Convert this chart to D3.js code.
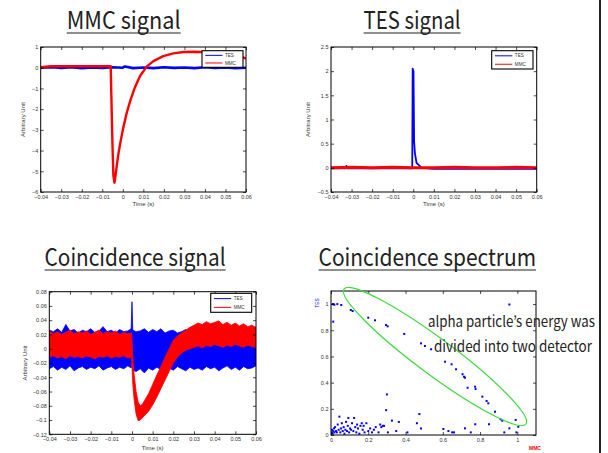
<!DOCTYPE html>
<html>
<head>
<meta charset="utf-8">
<script src="https://cdn.jsdelivr.net/npm/d3@7"></script>
<style>
  body { margin: 0; background: #fff; }
  svg { display: block; }
</style>
</head>
<body>
<script>
// ---- data ----
const timeTicks = [-0.04, -0.03, -0.02, -0.01, 0, 0.01, 0.02, 0.03, 0.04, 0.05, 0.06];

// MMC signal panel
const mmc1Time  = [-0.04, -0.035, -0.03, -0.02, -0.01, -0.0059, -0.0051, -0.0046, -0.0041, -0.0038, -0.003, -0.0022, -0.0014, 0, 0.0019, 0.0038, 0.0058, 0.0084, 0.0116, 0.0149, 0.0197, 0.0246, 0.0295, 0.0344, 0.0392, 0.0441, 0.0506, 0.0571, 0.06];
const mmc1Value = [0.03, 0.07, 0.07, 0.07, 0.07, 0.07, -3.5, -5.2, -5.55, -5.4, -4.77, -4.2, -3.72, -3.0, -2.18, -1.54, -0.97, -0.4, 0.05, 0.32, 0.56, 0.69, 0.76, 0.77, 0.76, 0.74, 0.68, 0.58, 0.43];
const tes1Time  = [-0.04, -0.034, -0.03, -0.025, -0.02, -0.015, -0.01, -0.005, 0, 0.001, 0.005, 0.01, 0.015, 0.02, 0.025, 0.03, 0.035, 0.04, 0.045, 0.05, 0.055, 0.06];
const tes1Value = [0.0, 0.03, -0.01, 0.02, -0.02, 0.01, -0.01, 0.02, 0.0, 0.06, -0.02, 0.01, -0.02, 0.02, -0.01, 0.01, -0.02, 0.02, -0.01, 0.01, -0.02, 0.0];
const mmc1YTicks = [-6, -5, -4, -3, -2, -1, 0, 1];

// TES signal panel
const tes2Time  = [-0.04, -0.033, -0.0325, -0.032, -0.02, -0.01, -0.0005, -0.0003, 0.0001, 0.0004, 0.0008, 0.0016, 0.0029, 0.004, 0.01, 0.03, 0.06];
const tes2Value = [-0.01, -0.01, 0.04, -0.01, -0.01, -0.01, -0.01, 2.05, 2.0, 0.55, 0.3, 0.1, 0.05, 0.0, -0.02, -0.02, -0.02];
const mmc2Time  = [-0.04, -0.03, -0.02, -0.01, 0, 0.01, 0.02, 0.03, 0.04, 0.05, 0.06];
const mmc2Value = [0.0, 0.01, 0.0, 0.01, 0.0, 0.0, 0.01, 0.0, 0.0, 0.01, 0.0];
const tes2YTicks = [-0.5, 0, 0.5, 1, 1.5, 2, 2.5];

// Coincidence signal panel (noise bands: upper / lower envelopes)
const coinTesTime  = [-0.04, -0.038, -0.036, -0.034, -0.032, -0.03, -0.028, -0.026, -0.024, -0.022, -0.02, -0.018, -0.016, -0.014, -0.012, -0.01, -0.008, -0.006, -0.004, -0.002, -0.0004, 0, 0.0004, 0.002, 0.004, 0.006, 0.008, 0.01, 0.012, 0.014, 0.016, 0.018, 0.02, 0.022, 0.024, 0.026, 0.028, 0.03, 0.032, 0.034, 0.036, 0.038, 0.04, 0.042, 0.044, 0.046, 0.048, 0.05, 0.052, 0.054, 0.056, 0.058, 0.06];
const coinTesUpper = [0.026, 0.024, 0.028, 0.023, 0.034, 0.025, 0.027, 0.022, 0.026, 0.024, 0.028, 0.023, 0.025, 0.031, 0.024, 0.026, 0.022, 0.027, 0.024, 0.025, 0.028, 0.066, 0.026, 0.024, 0.025, 0.028, 0.023, 0.027, 0.024, 0.028, 0.022, 0.025, 0.026, 0.022, 0.024, 0.027, 0.023, 0.025, 0.022, 0.026, 0.024, 0.021, 0.025, 0.023, 0.024, 0.022, 0.026, 0.023, 0.025, 0.022, 0.024, 0.023, 0.025];
const coinTesLower = [-0.028, -0.025, -0.03, -0.026, -0.029, -0.024, -0.031, -0.027, -0.025, -0.029, -0.026, -0.028, -0.024, -0.03, -0.027, -0.025, -0.029, -0.026, -0.028, -0.024, -0.027, -0.02, -0.03, -0.032, -0.028, -0.034, -0.027, -0.03, -0.026, -0.029, -0.031, -0.027, -0.03, -0.025, -0.028, -0.031, -0.026, -0.029, -0.027, -0.03, -0.025, -0.028, -0.026, -0.031, -0.027, -0.024, -0.029, -0.026, -0.03, -0.025, -0.028, -0.027, -0.024];
const coinMmcTime  = [-0.04, -0.038, -0.036, -0.034, -0.032, -0.03, -0.028, -0.026, -0.024, -0.022, -0.02, -0.018, -0.016, -0.014, -0.012, -0.01, -0.008, -0.006, -0.004, -0.002, -0.0002, 0.0004, 0.001, 0.002, 0.003, 0.004, 0.005, 0.006, 0.008, 0.01, 0.012, 0.014, 0.016, 0.018, 0.02, 0.022, 0.024, 0.026, 0.028, 0.03, 0.032, 0.034, 0.036, 0.038, 0.04, 0.042, 0.044, 0.046, 0.048, 0.05, 0.052, 0.054, 0.056, 0.058, 0.06];
const coinMmcUpper = [0.025, 0.021, 0.024, 0.02, 0.023, 0.026, 0.021, 0.024, 0.022, 0.025, 0.02, 0.023, 0.026, 0.021, 0.024, 0.022, 0.025, 0.02, 0.023, 0.021, 0.022, -0.01, -0.035, -0.06, -0.075, -0.08, -0.078, -0.073, -0.063, -0.05, -0.037, -0.025, -0.012, 0.0, 0.012, 0.018, 0.022, 0.026, 0.03, 0.033, 0.036, 0.034, 0.038, 0.035, 0.037, 0.039, 0.034, 0.037, 0.033, 0.036, 0.032, 0.035, 0.031, 0.033, 0.03];
const coinMmcLower = [-0.012, -0.01, -0.013, -0.011, -0.014, -0.01, -0.012, -0.011, -0.013, -0.01, -0.012, -0.014, -0.011, -0.012, -0.01, -0.013, -0.011, -0.012, -0.01, -0.013, -0.012, -0.05, -0.07, -0.092, -0.101, -0.1, -0.097, -0.094, -0.088, -0.079, -0.068, -0.056, -0.044, -0.032, -0.02, -0.012, -0.006, -0.002, 0.0, 0.002, 0.004, 0.001, 0.005, 0.003, 0.006, 0.004, 0.002, 0.005, 0.003, 0.006, 0.004, 0.002, 0.005, 0.003, 0.002];
const coinYTicks = [-0.12, -0.1, -0.08, -0.06, -0.04, -0.02, 0, 0.02, 0.04, 0.06, 0.08];

// Coincidence spectrum (normalised MMC vs TES energy)
const spectrumMMC = [0.009, 0.013, 0.018, 0.034, 0.055, 0.012, 0.106, 0.116, 0.2, 0.236, 0.295, 0.304, 0.393, 0.483, 0.504, 0.537, 0.612, 0.647, 0.671, 0.706, 0.714, 0.719, 0.733, 0.773, 0.776, 0.812, 0.835, 0.844, 0.88, 0.91, 0.919, 0.957, 0.991, 1.005, 0.957,
  0.005, 0.005, 0.009, 0.012, 0.016, 0.018, 0.022, 0.027, 0.031, 0.036, 0.041, 0.045, 0.05, 0.054, 0.058, 0.063, 0.068, 0.072, 0.077, 0.081, 0.086, 0.09, 0.093, 0.097, 0.102, 0.108, 0.113, 0.12, 0.124, 0.13, 0.136, 0.14, 0.145, 0.152, 0.158, 0.165, 0.17, 0.175, 0.18, 0.19, 0.2, 0.21, 0.22, 0.23, 0.24, 0.255, 0.264, 0.27, 0.278, 0.285, 0.296, 0.3, 0.305, 0.327, 0.35, 0.364, 0.41, 0.461, 0.474, 0.483, 0.603, 0.63, 0.65, 0.66, 0.719, 0.75, 0.774, 0.848, 0.93, 0.995];
const spectrumTES = [1.0, 1.0, 0.995, 1.0, 0.993, 0.866, 0.955, 0.947, 0.896, 0.876, 0.84, 0.83, 0.772, 0.7, 0.68, 0.655, 0.56, 0.54, 0.502, 0.464, 0.445, 0.438, 0.361, 0.369, 0.351, 0.293, 0.26, 0.242, 0.178, 0.12, 0.109, 0.051, 0.115, 0.063, 0.997,
  0.02, 0.04, 0.01, 0.03, 0.05, 0.02, 0.06, 0.03, 0.02, 0.08, 0.04, 0.14, 0.02, 0.05, 0.09, 0.03, 0.06, 0.01, 0.04, 0.1, 0.03, 0.07, 0.13, 0.02, 0.05, 0.04, 0.09, 0.03, 0.13, 0.06, 0.02, 0.08, 0.05, 0.01, 0.07, 0.09, 0.04, 0.07, 0.02, 0.09, 0.03, 0.05, 0.02, 0.04, 0.06, 0.02, 0.08, 0.06, 0.07, 0.07, 0.19, 0.31, 0.02, 0.11, 0.03, 0.1, 0.02, 0.09, 0.16, 0.05, 0.046, 0.03, 0.02, 0.02, 0.051, 0.02, 0.082, 0.082, 0.02, 0.02];
const spectrumTicks = [0, 0.2, 0.4, 0.6, 0.8, 1];
// ends of the green ellipse, in data units
const ellipseEnds = [[0.07, 1.115], [1.046, 0.084]];

const legendNames = ["TES", "MMC"];
const BLUE = "#0000ff", RED = "#ff0000";

const width = 608, height = 453;
const svg = d3.select("body").append("svg").attr("width", width).attr("height", height);
const fmt = d3.format("~g");
const tickFont = "'Liberation Sans', Arial, sans-serif";

function title(text, x, y, len) {
  svg.append("text")
    .attr("x", x).attr("y", y)
    .attr("font-family", "'Noto Sans CJK KR', 'Noto Sans', sans-serif")
    .attr("font-size", 24)
    .attr("fill", "#222")
    .attr("textLength", len).attr("lengthAdjust", "spacingAndGlyphs")
    .text(text);
  svg.append("line")
    .attr("x1", x).attr("x2", x + len)
    .attr("y1", y + 4).attr("y2", y + 4)
    .attr("stroke", "#222").attr("stroke-width", 1.2);
}

function panel(box, xDomain, yDomain, xTicks, yTicks, id) {
  const g = svg.append("g");
  const x = d3.scaleLinear().domain(xDomain).range([box.left, box.right]);
  const y = d3.scaleLinear().domain(yDomain).range([box.bottom, box.top]);
  g.append("rect")
    .attr("x", box.left).attr("y", box.top)
    .attr("width", box.right - box.left).attr("height", box.bottom - box.top)
    .attr("fill", "#fff");
  svg.append("clipPath").attr("id", id)
    .append("rect")
    .attr("x", box.left).attr("y", box.top)
    .attr("width", box.right - box.left).attr("height", box.bottom - box.top);
  const plot = g.append("g").attr("clip-path", `url(#${id})`);
  const axes = g.append("g");
  return { g, plot, axes, x, y, box, xTicks, yTicks };
}

function finishAxes(p) {
  const { axes, x, y, box, xTicks, yTicks } = p;
  const styleAxis = sel => {
    sel.select(".domain").remove();
    sel.attr("font-size", 5.5).attr("font-family", tickFont);
    sel.selectAll("line").attr("stroke", "#000").attr("stroke-width", 0.7);
    sel.selectAll("text").attr("fill", "#333");
  };
  axes.append("g").attr("transform", `translate(0,${box.bottom})`)
    .call(d3.axisBottom(x).tickValues(xTicks).tickSizeInner(-3).tickSizeOuter(0).tickPadding(3).tickFormat(fmt))
    .call(styleAxis);
  axes.append("g").attr("transform", `translate(0,${box.top})`)
    .call(d3.axisTop(x).tickValues(xTicks).tickSizeInner(-3).tickSizeOuter(0).tickFormat(""))
    .call(styleAxis);
  axes.append("g").attr("transform", `translate(${box.left},0)`)
    .call(d3.axisLeft(y).tickValues(yTicks).tickSizeInner(-3).tickSizeOuter(0).tickPadding(2.5).tickFormat(fmt))
    .call(styleAxis);
  axes.append("g").attr("transform", `translate(${box.right},0)`)
    .call(d3.axisRight(y).tickValues(yTicks).tickSizeInner(-3).tickSizeOuter(0).tickFormat(""))
    .call(styleAxis);
  axes.append("rect")
    .attr("x", box.left).attr("y", box.top)
    .attr("width", box.right - box.left).attr("height", box.bottom - box.top)
    .attr("fill", "none").attr("stroke", "#000").attr("stroke-width", 1);
}

function axisLabels(p, yLabelX, xLabelY) {
  const { g, box } = p;
  g.append("text")
    .attr("x", (box.left + box.right) / 2).attr("y", xLabelY)
    .attr("text-anchor", "middle")
    .attr("font-family", tickFont).attr("font-size", 6).attr("fill", "#333")
    .text("Time (s)");
  g.append("text")
    .attr("transform", `translate(${yLabelX},${(box.top + box.bottom) / 2}) rotate(-90)`)
    .attr("text-anchor", "middle")
    .attr("font-family", tickFont).attr("font-size", 6).attr("fill", "#333")
    .text("Arbitrary Unit");
}

function legend(p, lx, ly, lw, lh) {
  const lg = p.g.append("g").attr("transform", `translate(${lx},${ly})`);
  lg.append("rect").attr("width", lw).attr("height", lh)
    .attr("fill", "#fff").attr("stroke", "#000").attr("stroke-width", 1.1);
  const rowY = d3.scalePoint().domain(legendNames).range([lh * 0.28, lh * 0.74]);
  const colors = [BLUE, RED];
  legendNames.forEach((name, i) => {
    lg.append("line")
      .attr("x1", lw * 0.08).attr("x2", lw * 0.5)
      .attr("y1", rowY(name)).attr("y2", rowY(name))
      .attr("stroke", colors[i]).attr("stroke-width", 1);
    lg.append("text")
      .attr("x", lw * 0.56).attr("y", rowY(name)).attr("dy", "0.35em")
      .attr("font-family", tickFont).attr("font-size", 4.6).attr("fill", "#333")
      .text(name);
  });
}

function drawLine(p, xs, ys, color, w) {
  const pts = xs.map((t, i) => [t, ys[i]]);
  p.plot.append("path")
    .datum(pts)
    .attr("fill", "none").attr("stroke", color).attr("stroke-width", w)
    .attr("stroke-linejoin", "round")
    .attr("d", d3.line().x(d => p.x(d[0])).y(d => p.y(d[1])));
}

function drawBand(p, xs, up, lo, color) {
  const pts = xs.map((t, i) => [t, up[i], lo[i]]);
  p.plot.append("path")
    .datum(pts)
    .attr("fill", color).attr("stroke", color).attr("stroke-width", 0.8)
    .attr("d", d3.area().x(d => p.x(d[0])).y0(d => p.y(d[2])).y1(d => p.y(d[1])));
}

// ---- titles ----
title("MMC signal", 66.7, 29, 114);
title("TES signal", 363.6, 29, 97);
title("Coincidence signal", 44.6, 266, 181);
title("Coincidence spectrum", 318.6, 266, 217.4);

// ---- MMC signal ----
const p1 = panel({ left: 40.7, right: 246, top: 47, bottom: 192 }, [-0.04, 0.06], [-6, 1], timeTicks, mmc1YTicks, "c1");
drawLine(p1, tes1Time, tes1Value, BLUE, 2.6);
drawLine(p1, mmc1Time, mmc1Value, RED, 2.4);
finishAxes(p1);
axisLabels(p1, 25, 206);
legend(p1, 202, 50.7, 41, 16.6);

// ---- TES signal ----
const p2 = panel({ left: 331, right: 536.7, top: 47, bottom: 192 }, [-0.04, 0.06], [-0.5, 2.5], timeTicks, tes2YTicks, "c2");
drawLine(p2, tes2Time, tes2Value, BLUE, 1.8);
drawLine(p2, mmc2Time, mmc2Value, RED, 3);
finishAxes(p2);
axisLabels(p2, 310, 206);
legend(p2, 491.7, 50.7, 41.3, 18.3);

// ---- Coincidence signal ----
const p3 = panel({ left: 49.3, right: 256, top: 291.7, bottom: 434.3 }, [-0.04, 0.06], [-0.12, 0.08], timeTicks, coinYTicks, "c3");
drawBand(p3, coinTesTime, coinTesUpper, coinTesLower, BLUE);
drawBand(p3, coinMmcTime, coinMmcUpper, coinMmcLower, RED);
finishAxes(p3);
axisLabels(p3, 26.7, 449.5);
legend(p3, 210.7, 293.3, 41, 19);

// ---- Coincidence spectrum ----
const p4 = panel({ left: 331, right: 536, top: 291, bottom: 435 }, [0, 1.1], [0, 1.1], spectrumTicks, spectrumTicks, "c4");
p4.plot.selectAll("rect.pt")
  .data(spectrumMMC.map((m, i) => [m, spectrumTES[i]]))
  .join("rect").attr("class", "pt")
  .attr("x", d => p4.x(d[0]) - 1).attr("y", d => p4.y(d[1]) - 1)
  .attr("width", 2).attr("height", 2)
  .attr("fill", BLUE);
finishAxes(p4);
p4.g.append("text")
  .attr("transform", `translate(318.5,303) rotate(-90)`)
  .attr("text-anchor", "middle")
  .attr("font-family", tickFont).attr("font-size", 4.8).attr("fill", BLUE)
  .text("TES");
p4.g.append("text")
  .attr("x", 535).attr("y", 449.5)
  .attr("text-anchor", "middle")
  .attr("font-family", tickFont).attr("font-size", 5).attr("font-weight", "bold").attr("fill", RED)
  .text("MMC");

// green ellipse around the shared-energy events
{
  const [a, b] = ellipseEnds.map(d => [p4.x(d[0]), p4.y(d[1])]);
  const cx = (a[0] + b[0]) / 2, cy = (a[1] + b[1]) / 2;
  const rx = Math.hypot(b[0] - a[0], b[1] - a[1]) / 2;
  const ang = Math.atan2(b[1] - a[1], b[0] - a[0]) * 180 / Math.PI;
  svg.append("ellipse")
    .attr("transform", `translate(${cx},${cy}) rotate(${ang})`)
    .attr("rx", rx).attr("ry", 18)
    .attr("fill", "none").attr("stroke", "#3cdc3c").attr("stroke-width", 1.2);
}

// annotation text
const note = svg.append("g")
  .attr("font-family", "'Noto Sans CJK KR', 'Noto Sans', sans-serif")
  .attr("font-size", 15).attr("fill", "#222");
note.append("text").attr("x", 428).attr("y", 326.5)
  .attr("textLength", 167).attr("lengthAdjust", "spacingAndGlyphs")
  .text("alpha particle’s energy was");
note.append("text").attr("x", 434).attr("y", 351.5)
  .attr("textLength", 158).attr("lengthAdjust", "spacingAndGlyphs")
  .text("divided into two detector");

// slide edge line on the right
svg.append("line")
  .attr("x1", 600).attr("x2", 600).attr("y1", 0).attr("y2", height)
  .attr("stroke", "#222").attr("stroke-width", 2);
</script>
</body>
</html>
